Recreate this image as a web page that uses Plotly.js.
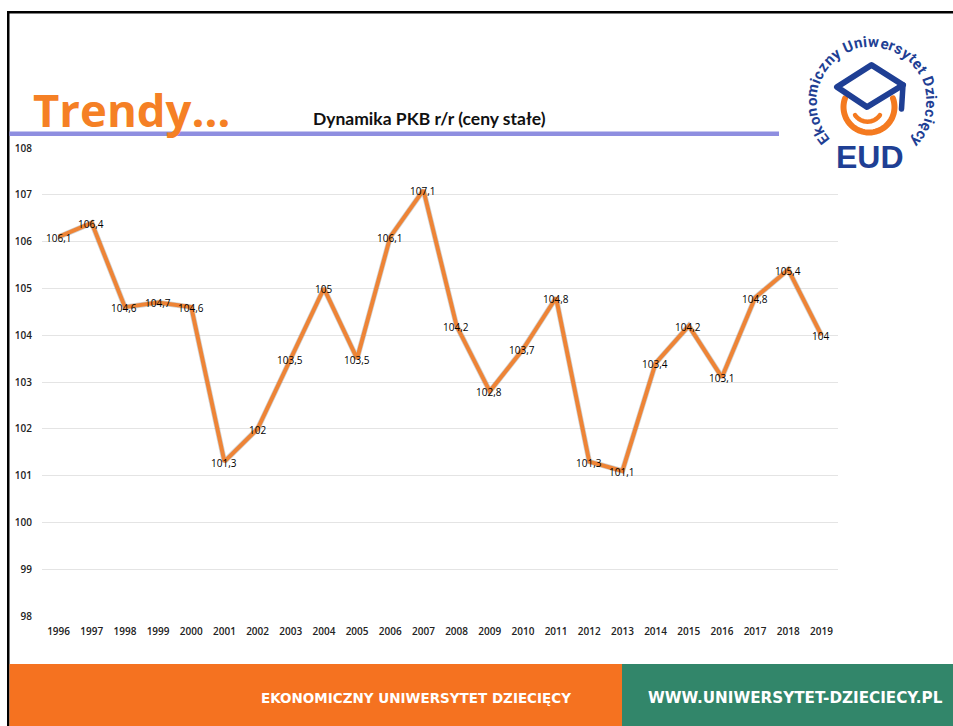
<!DOCTYPE html>
<html><head><meta charset="utf-8">
<script src="https://cdn.plot.ly/plotly-3.0.1.min.js"></script>
<style>html,body{margin:0;padding:0;background:#fff;overflow:hidden}#c{width:953px;height:726px}</style>
</head><body><div id="c"></div>
<script>
var years = ['1996','1997','1998','1999','2000','2001','2002','2003','2004','2005','2006','2007','2008','2009','2010','2011','2012','2013','2014','2015','2016','2017','2018','2019'];
var values = [106.1,106.4,104.6,104.7,104.6,101.3,102,103.5,105,103.5,106.1,107.1,104.2,102.8,103.7,104.8,101.3,101.1,103.4,104.2,103.1,104.8,105.4,104];
var yTicks = [98,99,100,101,102,103,104,105,106,107,108];
var chartTitle = 'Dynamika PKB r/r (ceny stałe)';
var heading = 'Trendy…';
var footerLeft = 'EKONOMICZNY UNIWERSYTET DZIECIĘCY';
var footerRight = 'WWW.UNIWERSYTET-DZIECIECY.PL';
var logoRing = 'Ekonomiczny Uniwersytet Dziecięcy';
var logoMark = 'EUD';

var W=953,H=726;
function X(p){return p/W;} function Y(p){return 1-p/H;}
function P(x,y){return X(x)+','+Y(y);}
var NAVY='#1f3f94', ORANGE='#f57220', GREEN='#32866a';
function rect(x0,y0,x1,y1,c,layer){return {type:'rect',xref:'paper',yref:'paper',x0:X(x0),x1:X(x1),y0:Y(y0),y1:Y(y1),fillcolor:c,line:{width:0},layer:layer||'above'};}
function path(d,stroke,w,fill){return {type:'path',xref:'paper',yref:'paper',path:d,line:{color:stroke,width:w},fillcolor:fill||'rgba(0,0,0,0)',layer:'above'};}
function arc(cx,cy,r,a0,a1,n){var s='';for(var i=0;i<=n;i++){var a=(a0+(a1-a0)*i/n)*Math.PI/180;s+=(i?'L':'M')+P(cx+r*Math.cos(a),cy+r*Math.sin(a));}return s;}

var shapes=[
 rect(7,11,9.5,726,'#000'),
 rect(7,11,953,13.5,'#000'),
 rect(9.5,664,622,726,ORANGE),
 rect(622,664,953,726,GREEN),
 path(arc(869,107,25.5,-20,200,44),'#f47a20',6),
 path(arc(867.5,106.7,15,34,146,16),'#f47a20',4.5),
 path('M'+P(871.5,65)+'L'+P(903,85)+'L'+P(867,107)+'L'+P(837,87)+'Z',NAVY,6,'#ffffff'),
 path('M'+P(903,85)+'L'+P(901.5,109),NAVY,5.5)
];

var annotations=[
 {text:heading,xref:'paper',yref:'paper',x:X(131),y:Y(109),xanchor:'center',yanchor:'middle',showarrow:false,font:{family:'Open Sans',size:45.5,color:'#f58025',weight:700}},
 {text:chartTitle,xref:'paper',yref:'paper',x:X(429),y:Y(119),xanchor:'center',yanchor:'middle',showarrow:false,font:{family:'Lato',size:17.5,color:'#111',weight:700}},
 {text:footerLeft,xref:'paper',yref:'paper',x:X(416),y:Y(698),xanchor:'center',yanchor:'middle',showarrow:false,font:{family:'DejaVu Sans',size:13.5,color:'#fff',weight:700}},
 {text:footerRight,xref:'paper',yref:'paper',x:X(795),y:Y(698),xanchor:'center',yanchor:'middle',showarrow:false,font:{family:'DejaVu Sans',size:15.2,color:'#fff',weight:700}},
 {text:logoMark,xref:'paper',yref:'paper',x:X(869.5),y:Y(157),xanchor:'center',yanchor:'middle',showarrow:false,font:{family:'Liberation Sans',size:32,color:NAVY,weight:700}}
];
shapes.push(rect(9.5,131.5,779,136,'#8e8ee0'));

(function(){
 var ctx=document.createElement('canvas').getContext('2d');
 var fs=15; ctx.font='bold '+fs+'px Roboto';
 var cx=871.5,cy=102,r=60,chars=Array.from(logoRing),ws=chars.map(function(c){return ctx.measureText(c).width;});
 var tot=ws.reduce(function(a,b){return a+b;},0);
 var start=-132,end=136;
 var k=(end-start)/tot,acc=0;
 chars.forEach(function(c,i){
  var ang=start+(acc+ws[i]/2)*k; acc+=ws[i];
  if(c===' ')return;
  var t=ang*Math.PI/180;
  annotations.push({text:c,xref:'paper',yref:'paper',x:X(cx+r*Math.sin(t)),y:Y(cy-r*Math.cos(t)),xanchor:'center',yanchor:'middle',showarrow:false,textangle:ang,borderpad:0,font:{family:'Roboto',size:fs,color:NAVY,weight:700}});
 });
})();

var labels=values.map(function(v){return String(v).replace('.',',');});
labels.forEach(function(t,i){
 // on a category axis an annotation's x is the category's position in the list
 annotations.push({text:t,xref:'x',yref:'y',x:i,y:values[i],yshift:-1,xshift:-0.5,xanchor:'center',yanchor:'middle',showarrow:false,borderpad:0,font:{family:'Open Sans',size:10,color:'#000'}});
});

var traces=[
 {type:'scatter',mode:'lines',x:years,y:values,line:{color:'rgba(90,90,90,0.28)',width:5.5},hoverinfo:'skip',showlegend:false},
 {type:'scatter',mode:'lines',x:years,y:values,line:{color:'#ee8436',width:4},showlegend:false}
];
var layout={
 width:W,height:H,margin:{l:0,r:0,t:0,b:0},paper_bgcolor:'#fff',plot_bgcolor:'#fff',showlegend:false,
 xaxis:{type:'category',domain:[X(42),X(838)],range:[-0.5,23.5],anchor:'y',showgrid:false,zeroline:false,showline:false,ticks:'',tickfont:{family:'Open Sans',size:10,color:'#222',weight:600},tickangle:0,ticklabelstandoff:8},
 yaxis:{domain:[Y(616),Y(148)],range:[98,108],anchor:'x',tickvals:yTicks,ticktext:yTicks.map(String),gridcolor:'#e4e4e4',gridwidth:1,zeroline:false,showline:false,ticks:'',tickfont:{family:'Open Sans',size:10,color:'#222',weight:600},ticklabelstandoff:9},
 shapes:shapes,annotations:annotations
};
Plotly.newPlot('c',traces,layout,{displayModeBar:false,responsive:false}).then(function(gd){
 gd.querySelectorAll('.shapelayer path').forEach(function(p){p.style.strokeLinejoin='round';p.style.strokeLinecap='round';});
});
</script></body></html>
